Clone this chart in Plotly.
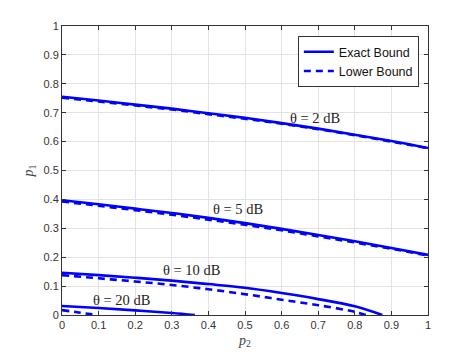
import plotly.graph_objects as go

# ---------------------------------------------------------------------------
# data
p2_grid = [0, 0.1, 0.2, 0.3, 0.4, 0.5, 0.6, 0.7, 0.8, 0.9, 1.0]

exact_2 = [0.755, 0.742, 0.728, 0.714, 0.698, 0.682, 0.664, 0.645, 0.624, 0.602, 0.578]
lower_2 = [0.752, 0.739, 0.725, 0.711, 0.695, 0.679, 0.662, 0.643, 0.622, 0.600, 0.577]

exact_5 = [0.397, 0.383, 0.368, 0.353, 0.336, 0.318, 0.298, 0.277, 0.255, 0.232, 0.208]
lower_5 = [0.393, 0.378, 0.363, 0.347, 0.330, 0.312, 0.293, 0.272, 0.251, 0.229, 0.206]

p2_10 = [0, 0.1, 0.2, 0.3, 0.4, 0.5, 0.6, 0.7, 0.8, 0.875]
exact_10 = [0.146, 0.138, 0.129, 0.119, 0.107, 0.094, 0.076, 0.055, 0.030, 0.0]
p2_10l = [0, 0.1, 0.2, 0.3, 0.4, 0.5, 0.6, 0.7, 0.8, 0.83]
lower_10 = [0.138, 0.127, 0.116, 0.104, 0.089, 0.072, 0.053, 0.034, 0.011, 0.0]

p2_20 = [0, 0.1, 0.2, 0.3, 0.363]
exact_20 = [0.031, 0.024, 0.016, 0.007, 0.0]
p2_20l = [0, 0.05, 0.095]
lower_20 = [0.017, 0.008, 0.0]

labels = ["θ = 2 dB", "θ = 5 dB", "θ = 10 dB", "θ = 20 dB"]
label_x = [0.69, 0.48, 0.355, 0.162]
label_y = [0.68, 0.367, 0.156, 0.052]

ticks = [0, 0.1, 0.2, 0.3, 0.4, 0.5, 0.6, 0.7, 0.8, 0.9, 1]
tick_text = ["0", "0.1", "0.2", "0.3", "0.4", "0.5", "0.6", "0.7", "0.8", "0.9", "1"]
# ---------------------------------------------------------------------------

fig = go.Figure()

curves = [
  (p2_grid, exact_2, p2_grid, lower_2),
  (p2_grid, exact_5, p2_grid, lower_5),
  (p2_10, exact_10, p2_10l, lower_10),
  (p2_20, exact_20, p2_20l, lower_20),
]

for i, (xs, ys, xl, yl) in enumerate(curves):
  fig.add_trace(go.Scatter(
    x=xs, y=ys, mode='lines', line=dict(color="blue", width=2.6, shape="spline"),
    name="Exact Bound", showlegend=(i == 0)
  ))
  fig.add_trace(go.Scatter(
    x=xl, y=yl, mode='lines', line=dict(color="blue", width=2.6, dash="7px,5px", shape="spline"),
    name="Lower Bound", showlegend=(i == 0)
  ))

for txt, lx, ly in zip(labels, label_x, label_y):
  fig.add_annotation(
    x=lx, y=ly, text=txt, showarrow=False,
    font=dict(family="Liberation Serif, DejaVu Serif, serif", size=14.5, color="#222")
  )

axis_style = dict(
  range=[0, 1], tickvals=ticks, ticktext=tick_text, automargin=False,
  showgrid=True, gridcolor="#e3e3e3", gridwidth=1,
  showline=True, linecolor="#333", linewidth=1, mirror="ticks",
  ticks="inside", ticklen=4, tickcolor="#333",
  zeroline=False,
  tickfont=dict(family="Liberation Sans, Arial, sans-serif", size=11, color="#333"),
)

fig.update_xaxes(**axis_style)
fig.update_yaxes(**axis_style)
fig.update_xaxes(title=dict(text="<i>p</i><sub>2</sub>", standoff=4,
  font=dict(family="Liberation Serif, serif", size=14, color="#444")))
fig.update_yaxes(title=dict(text="<i>p</i><sub>1</sub>", standoff=6,
  font=dict(family="Liberation Serif, serif", size=14, color="#444")))

# page body adds an 8px offset, so the figure is drawn 8px smaller
fig.update_layout(
  width=465, height=347,
  margin=dict(l=54, r=45, t=18, b=40, autoexpand=False),
  plot_bgcolor="white", paper_bgcolor="white",
  legend=dict(
    x=0.975, y=0.965, xanchor="right", yanchor="top",
    bgcolor="white", bordercolor="#333", borderwidth=1,
    font=dict(family="Liberation Sans, Arial, sans-serif", size=12.5, color="#111"),
    tracegroupgap=0,
  ),
)

fig.write_html("out.html")
